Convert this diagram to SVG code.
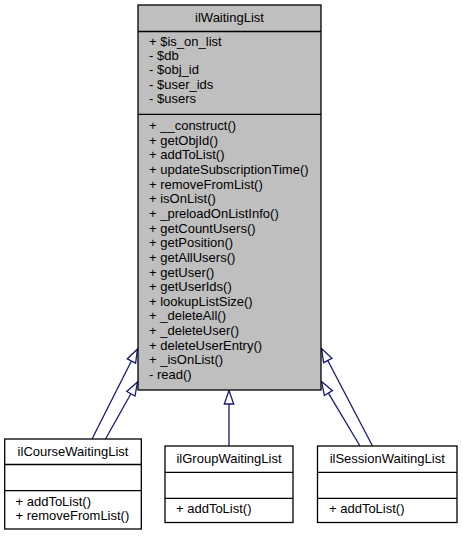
<svg xmlns="http://www.w3.org/2000/svg" width="463" height="536" viewBox="0 0 463 536">
<style>
text{font-family:"Liberation Sans",Arial,sans-serif;font-size:13px;fill:#000}
.c{text-anchor:middle}
.box{fill:#fff;stroke:#000;stroke-width:1.3}
.cur{fill:#bfbfbf;stroke:#000;stroke-width:1.3}
.sep{stroke:#000;stroke-width:1.3}
.edge{fill:none;stroke:#191970;stroke-width:1.3}
.head{fill:#fff;stroke:#191970;stroke-width:1.3}
</style>
<rect width="463" height="536" fill="#fff"/>
<g id="connectors">
<path class="edge" d="M92,439 L131.41,361.05"/>
<polygon class="head" points="137.5,349 127.22,358.93 135.6,363.17"/>
<path class="edge" d="M105.5,439 L130.89,393.77"/>
<polygon class="head" points="137.5,382 126.79,391.47 134.99,396.07"/>
<path class="edge" d="M229,446 L229,404"/>
<polygon class="head" points="229,390.5 224.3,404 233.7,404"/>
<path class="edge" d="M372.5,446 L327.76,360.46"/>
<polygon class="head" points="321.5,348.5 331.92,358.28 323.6,362.64"/>
<path class="edge" d="M360,446 L328.42,393.09"/>
<polygon class="head" points="321.5,381.5 332.46,390.68 324.38,395.5"/>
</g>
<g id="ilWaitingList">
<rect class="cur" x="138" y="5" width="183" height="385"/>
<line class="sep" x1="138" y1="31.5" x2="321" y2="31.5"/>
<line class="sep" x1="138" y1="114.3" x2="321" y2="114.3"/>
<text class="c" x="229.5" y="22">ilWaitingList</text>
<text x="149" y="45.5">+ $is_on_list</text>
<text x="149" y="59.9">- $db</text>
<text x="149" y="74.3">- $obj_id</text>
<text x="149" y="88.7">- $user_ids</text>
<text x="149" y="103.1">- $users</text>
<text x="149" y="130">+ __construct()</text>
<text x="149" y="144.65">+ getObjId()</text>
<text x="149" y="159.3">+ addToList()</text>
<text x="149" y="173.95">+ updateSubscriptionTime()</text>
<text x="149" y="188.6">+ removeFromList()</text>
<text x="149" y="203.25">+ isOnList()</text>
<text x="149" y="217.9">+ _preloadOnListInfo()</text>
<text x="149" y="232.55">+ getCountUsers()</text>
<text x="149" y="247.2">+ getPosition()</text>
<text x="149" y="261.85">+ getAllUsers()</text>
<text x="149" y="276.5">+ getUser()</text>
<text x="149" y="291.15">+ getUserIds()</text>
<text x="149" y="305.8">+ lookupListSize()</text>
<text x="149" y="320.45">+ _deleteAll()</text>
<text x="149" y="335.1">+ _deleteUser()</text>
<text x="149" y="349.75">+ deleteUserEntry()</text>
<text x="149" y="364.4">+ _isOnList()</text>
<text x="149" y="379.05">- read()</text>
</g>
<g id="ilCourseWaitingList">
<rect class="box" x="4.7" y="439" width="136.6" height="90"/>
<line class="sep" x1="4.7" y1="464.5" x2="141.3" y2="464.5"/>
<line class="sep" x1="4.7" y1="490.7" x2="141.3" y2="490.7"/>
<text class="c" x="73" y="455.5">ilCourseWaitingList</text>
<text x="15.5" y="505.5">+ addToList()</text>
<text x="15.5" y="520">+ removeFromList()</text>
</g>
<g id="ilGroupWaitingList">
<rect class="box" x="165" y="446" width="128" height="76.5"/>
<line class="sep" x1="165" y1="472.3" x2="293" y2="472.3"/>
<line class="sep" x1="165" y1="498.3" x2="293" y2="498.3"/>
<text class="c" x="229" y="463">ilGroupWaitingList</text>
<text x="176" y="513">+ addToList()</text>
</g>
<g id="ilSessionWaitingList">
<rect class="box" x="317.5" y="446" width="139.5" height="76.5"/>
<line class="sep" x1="317.5" y1="472.3" x2="457" y2="472.3"/>
<line class="sep" x1="317.5" y1="498.3" x2="457" y2="498.3"/>
<text class="c" x="387.2" y="463">ilSessionWaitingList</text>
<text x="329" y="513">+ addToList()</text>
</g>
</svg>
